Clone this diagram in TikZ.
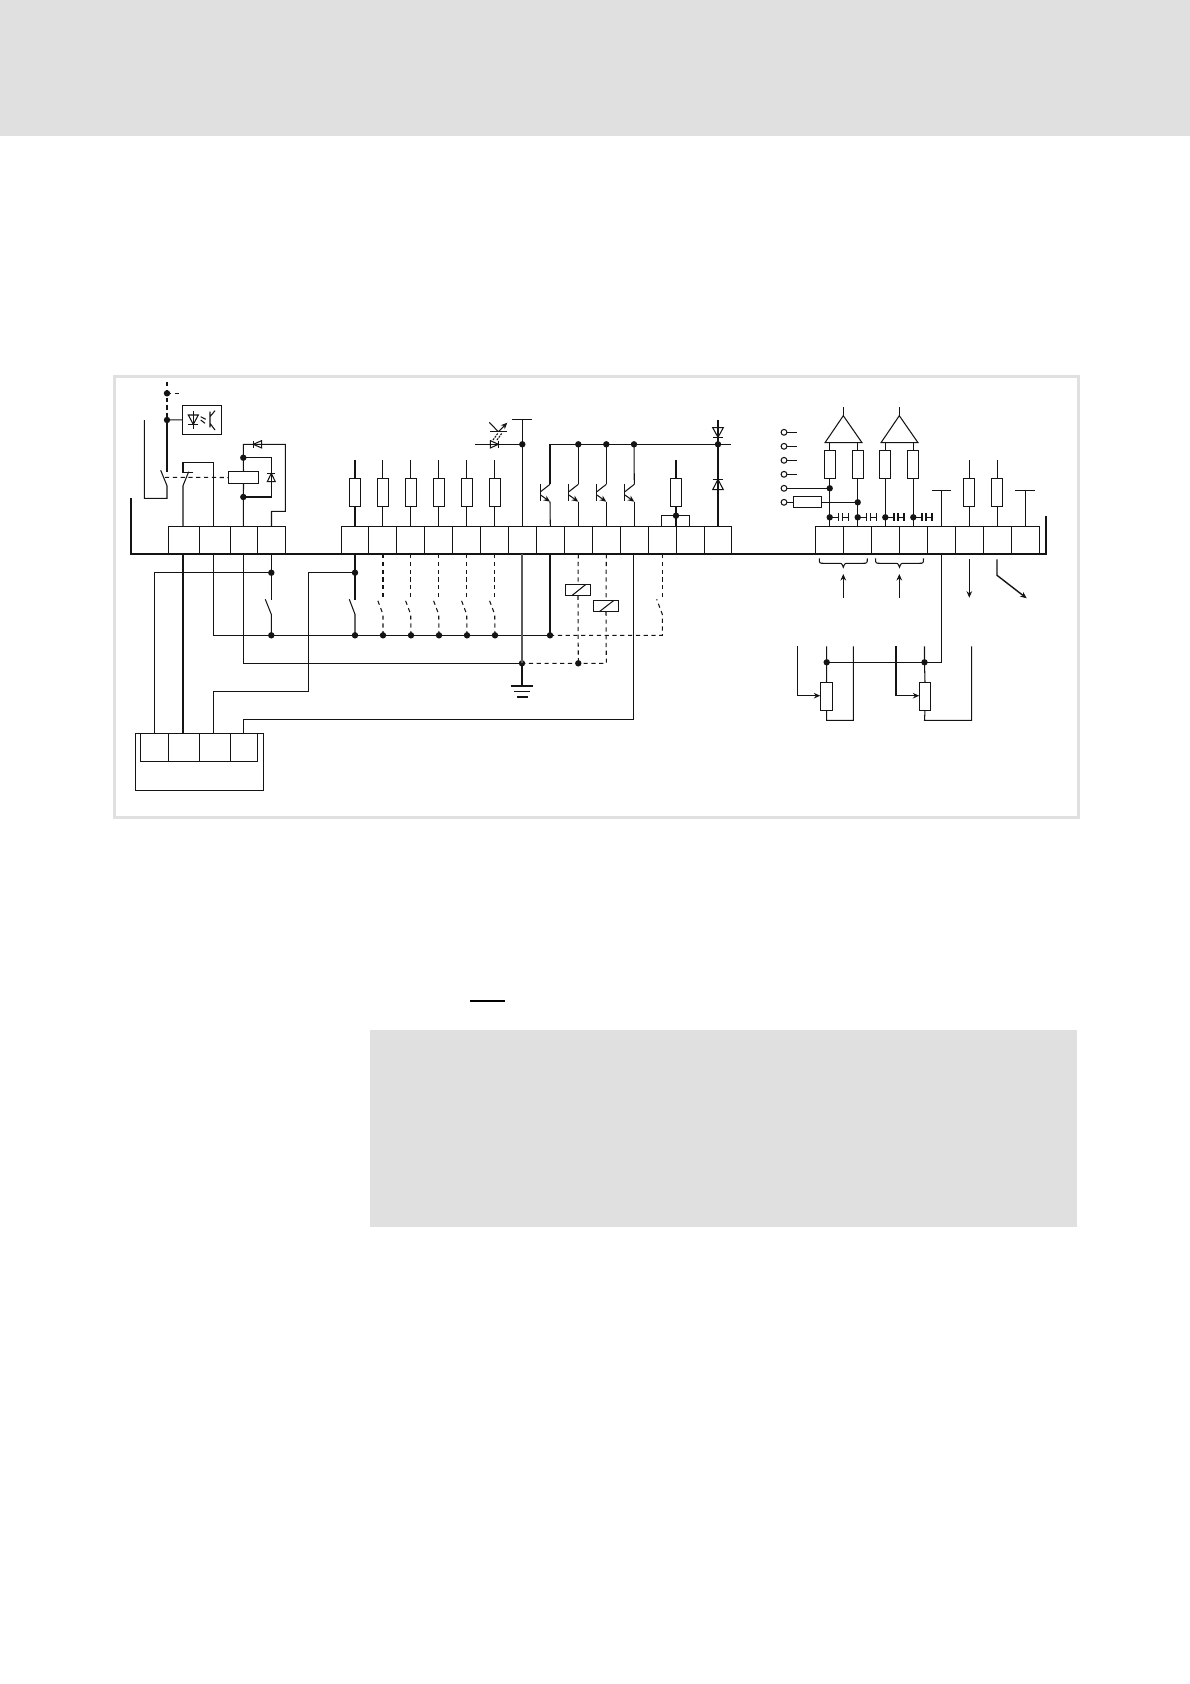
\documentclass[tikz,border=0pt]{standalone}
\usetikzlibrary{arrows.meta}
\definecolor{ink}{HTML}{141414}
\definecolor{panel}{HTML}{E0E0E0}
\tikzset{
  wire/.style={line width=1.05pt,draw=ink,line join=miter},
  thickwire/.style={line width=1.9pt,draw=ink},
  dwire/.style={line width=1.05pt,draw=ink,dash pattern=on 4.2pt off 3.6pt},
  bus/.style={line width=2.3pt,draw=ink},
  termbox/.style={rectangle,draw=ink,line width=1.05pt,inner sep=0pt,outer sep=0pt,minimum height=27.7pt},
  resbox/.style={rectangle,draw=ink,line width=1.05pt,inner sep=0pt,outer sep=0pt,minimum width=11.3pt,minimum height=28.3pt},
  relaybox/.style={rectangle,draw=ink,line width=1.05pt,inner sep=0pt,outer sep=0pt,minimum width=25.4pt,minimum height=11.4pt},
  plainbox/.style={rectangle,draw=ink,line width=1.05pt,inner sep=0pt,outer sep=0pt},
  dot/.style={circle,fill=ink,inner sep=0pt,outer sep=0pt,minimum size=6.4pt},
  ring/.style={circle,draw=ink,line width=1.05pt,fill=white,inner sep=0pt,outer sep=0pt,minimum size=5.8pt},
  tip/.style={-{Stealth[length=6.5pt,width=5.6pt]}}
}
\newcommand{\diodemark}[5]{\begin{scope}[shift={(#1,#2)},rotate=#3]
  \draw[wire] (-#4,-#5) -- (#4,0) -- (-#4,#5) -- cycle;
  \draw[wire] (#4,-#5) -- (#4,#5);
\end{scope}}
\newcommand{\transmark}[1]{\begin{scope}[shift={(#1,0)}]
  \draw[wire] (-9.4,484.3) -- (-9.4,501);
  \draw[wire] (-9.4,491.7) -- (0,484.3);
  \draw[wire,tip] (-9.4,495) -- (0,501.7);
\end{scope}}
\newcommand{\capmark}[1]{\begin{scope}[shift={(#1,517.3)}]
  \draw[wire] (0,0) -- (8.7,0) (8.7,-4) -- (8.7,4) (12.7,-4) -- (12.7,4) (12.7,0) -- (18.7,0) (18.7,-4) -- (18.7,4);
\end{scope}}
\newcommand{\bracemark}[1]{\begin{scope}[shift={(#1,0)}]
  \draw[wire] (-24,558.3) .. controls (-24,563.3) .. (-19,563.3) -- (-5,563.3) .. controls (-1.5,563.3) .. (0,567.3) .. controls (1.5,563.3) .. (5,563.3) -- (19,563.3) .. controls (24,563.3) .. (24,558.3);
\end{scope}}
\begin{document}
\begin{tikzpicture}[x=1pt,y=-1pt]
\path[use as bounding box] (0,0) rectangle (1190,1684);
\fill[panel] (0,0) rectangle (1190,136);
\draw[panel,line width=3pt] (114,376) rectangle (1078,817);
\fill[panel] (369.5,1029.5) rectangle (1077,1227);
\fill[black] (469.5,1000) rectangle (504.5,1002.2);

% terminal strip
\foreach \n/\a/\b in {L1/168.3/199.3,L2/199.3/230.3,L3/230.3/257.7,L4/257.7/285.3,
  M1/341.3/368.3,M2/368.3/396.3,M3/396.3/424.3,M4/424.3/452.3,M5/452.3/480.3,M6/480.3/508.3,M7/508.3/536.3,
  M8/536.3/564.3,M9/564.3/592.3,M10/592.3/620.3,M11/620.3/648.3,M12/648.3/676.3,M13/676.3/704.3,M14/704.3/731.3,
  R1/815.3/843.3,R2/843.3/871.3,R3/871.3/899.3,R4/899.3/927.3,R5/927.3/955.3,R6/955.3/983.3,R7/983.3/1011.3,R8/1011.3/1039.3}{
  \pgfmathsetmacro\w{\b-\a}\pgfmathsetmacro\c{(\a+\b)/2}
  \node[termbox,minimum width=\w pt] (\n) at (\c,540.2) {};
}
\draw[bus] (131,498) -- (131,554) -- (1047,554);
\draw[wire] (1046,516) -- (1046,554);

% connector at the bottom left
\node[plainbox,minimum width=128pt,minimum height=57pt] (X) at (199.3,761.8) {};
\foreach \n/\a/\b in {C1/140.3/168.3,C2/168.3/199.3,C3/199.3/230.3,C4/230.3/257.3}{
  \pgfmathsetmacro\w{\b-\a}\pgfmathsetmacro\c{(\a+\b)/2}
  \node[termbox,minimum width=\w pt,minimum height=28pt] (\n) at (\c,747.3) {};
}

% junctions
\node[dot] (jT1) at (167,393.3) {};
\node[dot] (jT2) at (167,420) {};
\node[dot] (jK1) at (243.3,457.7) {};
\node[dot] (jK2) at (243.3,497) {};
\node[dot] (jA) at (271.3,572.7) {};
\node[dot] (jB) at (355,572.7) {};
\node[dot] (jC) at (271.3,635.3) {};
\node[dot] (jD) at (355,635.3) {};
\foreach \i/\x in {1/383,2/411,3/439,4/467,5/495}{\node[dot] (jE\i) at (\x,635.3) {};}
\node[dot] (jF) at (550,635.3) {};
\node[dot] (jG) at (522,663.3) {};
\node[dot] (jH) at (578.3,663.3) {};
\node[dot] (jP) at (522.3,444.3) {};
\foreach \i/\x in {1/578.3,2/606.3,3/634,4/718}{\node[dot] (jQ\i) at (\x,444.3) {};}
\node[dot] (jS) at (676,515.7) {};

% upper left : contacts and relay
\draw[dwire] (167,382) -- (jT1.center) -- (jT2.center);
\draw[dwire] (jT1.center) -- (181.7,393.3);
\node[plainbox,minimum width=39pt,minimum height=29pt] (opto) at (201.8,419.8) {};
\draw[wire] (jT2.center) -- (opto.west);
\draw[wire] (jT2.center) -- (167,472);
\draw[wire] (144.3,420) -- (144.3,498.3) -- (167,498.3) -- (167,485.7) -- (160.7,470.3);
\draw[wire] ([xshift=-0.8pt]L1.north) -- (183,485.7) -- (188.7,471.7);
\draw[wire] (193.3,472.3) -- (183,472.3) -- (183,462.7) -- (213.7,462.7) -- ([xshift=-1.1pt]L2.north);
\node[plainbox,minimum width=30.4pt,minimum height=12.4pt] (K) at (243.5,477.5) {};
\draw[dwire] (165,477.3) -- (K.west);
\draw[wire] (K.south) -- ([xshift=-0.7pt]L3.north);
\draw[wire] (K.north) -- (jK1.center) -- (243.3,444.3) -- (285.3,444.3) -- (285.3,511.3) -- (271.5,511.3) -- (L4.north);
\draw[wire] (jK1.center) -- (271.3,457.7) -- (271.3,497) -- (jK2.center);
\diodemark{257.5}{444.3}{180}{4.2}{3.7}
\diodemark{271.3}{477.5}{90}{4.2}{4}
% optocoupler
\draw[wire] (193.3,410.7) -- (193.3,429.3);
\diodemark{193.3}{419.7}{-90}{4.7}{5}
\draw[wire] (200.7,416.7) -- (205.7,419.3) (200.7,420) -- (205,423.3);
\draw[wire] (210,411.7) -- (210,427.3) (210,416.7) -- (215,410.7) (210,423.3) -- (215,430);

% resistors above the middle row
\foreach \i/\x in {1/355,2/382.7,3/410.7,4/438.7,5/466.7,6/494.7}{
  \node[resbox] (rm\i) at (\x,492.5) {};
  \draw[wire] (rm\i.north) -- ++(0,-18);
  \draw[wire] (rm\i.south) -- (rm\i.south |- M\i.north);
}
% supply and photo coupler
\draw[wire] (M7.north) -- (522.3,419.7);
\draw[wire] (512.3,419.7) -- (532,419.7);
\draw[wire] (475.3,444.3) -- (jP.center);
\diodemark{494.3}{444.3}{0}{4}{3.7}
\draw[wire] (490,431.7) -- (506.7,431.7);
\draw[wire] (489.3,422.3) -- (498.3,431.7);
\draw[wire,tip] (498.3,431.7) -- (507.3,422.7);
\draw[wire,dash pattern=on 2pt off 1pt] (493,440) -- (498,433) (497,440) -- (502,433);

% transistors
\draw[wire] (550,501.7) -- (M8.north);
\draw[wire] (578.3,501.7) -- (M9.north);
\draw[wire] (606.3,501.7) -- (M10.north);
\draw[wire] (634.3,501.7) -- (M11.north);
\draw[wire] (550,484.3) -- (550,444.3) -- (jQ4.center) -- (731.3,444.3);
\draw[wire] (578.3,484.3) -- (jQ1.center);
\draw[wire] (606.3,484.3) -- (jQ2.center);
\draw[wire] (634.3,484.3) -- (jQ3.center);
\transmark{550}\transmark{578.3}\transmark{606.3}\transmark{634.3}

% resistor with bridge
\node[resbox] (rb) at (676,492.5) {};
\draw[wire] (rb.north) -- ++(0,-18);
\draw[wire] (rb.south) -- (jS.center) -- (676,526.3);
\draw[wire] (661.3,526.3) -- (661.3,515.3) -- (689.3,515.3) -- (689.3,526.3);

% diode column
\draw[wire] (718,420) -- (jQ4.center) -- (718,526.3);
\diodemark{718}{432.5}{-90}{4.8}{5.3}
\diodemark{718}{484.5}{90}{5.2}{5.3}

% wiring below the strip, left part
\draw[wire] ([xshift=-0.8pt]L1.south) -- ([xshift=-0.8pt]C2.north);
\draw[wire] ([xshift=-1.1pt]L2.south) |- (jF.center);
\draw[wire] ([xshift=-0.7pt]L3.south) |- (jG.center);
\draw[wire] (jA.center |- L4.south) -- (271.3,600);
\draw[wire] (jC.center) -- (271.3,614.3) -- (265.3,599.3);
\draw[wire] (C1.north) |- (jA.center);
\draw[thickwire] (jB.center |- M1.south) -- (355,600);
\draw[wire] (jD.center) -- (355,614.3) -- (349.3,599.3);
\draw[wire] (jB.center) -- (308.3,572.7) -- (308.3,691.3) -| ([xshift=-1.1pt]C3.north);
\draw[wire] ([xshift=-0.5pt]C4.north) -- ++(0,-14) -| ([xshift=-1pt]M11.south);

% dashed contacts
\foreach \i/\x in {1/383,2/410.7,3/438.7,4/466.7,5/494.7}{
  \draw[dwire] (\x,554) -- (\x,600);
  \draw[dwire] (jE\i.center) -- (\x,614.3) -- (\x-5.7,599.3);
}
\draw[wire] (jF.center |- M8.south) -- (jF.center);
\draw[dwire] (jF.center) -- (662.3,635.3) -- (662.3,614.3) -- (656.7,599.3);
\draw[dwire] (M12.south) -- (662.3,600);

% relays
\node[relaybox] (rl1) at (578,590) {};
\node[relaybox] (rl2) at (606,606) {};
\draw[wire] ([xshift=-6.3pt]rl1.south) -- ([xshift=8pt]rl1.north);
\draw[wire] ([xshift=-6.7pt]rl2.south) -- ([xshift=8pt]rl2.north);
\draw[dwire] (M9.south) -- (rl1.north);
\draw[dwire] (rl1.south) -- (jH.center);
\draw[dwire] (M10.south) -- (rl2.north);
\draw[dwire] (rl2.south) -- (606.3,663.3) -- (jH.center) -- (jG.center);

% earth
\coordinate (gnd) at (522,686);
\draw[wire,draw=ink!70,line width=1.7pt] (jG.center |- M7.south) -- (jG.center);
\draw[thickwire] (jG.center) -- (gnd);
\draw[wire] ([xshift=-11pt]gnd) -- ([xshift=11pt]gnd);
\draw[wire] ([xshift=-8pt,yshift=-5.7pt]gnd) -- ([xshift=8pt,yshift=-5.7pt]gnd);
\draw[wire] ([xshift=-5pt,yshift=-11pt]gnd) -- ([xshift=5.5pt,yshift=-11pt]gnd);

% right part above the strip
\foreach \i/\y in {1/432.3,2/446.3,3/460.3,4/474.3}{
  \node[ring] (o\i) at (784,\y) {};
  \draw[wire] (o\i) -- (796.7,\y);
}
\node[ring] (o5) at (784,488.3) {};
\node[ring] (o6) at (784,502.3) {};
\node[dot] (j5) at (829.7,488.3) {};
\node[dot] (j6) at (857.7,502.3) {};
\draw[wire] (o5) -- (j5.center);
\node[plainbox,minimum width=28.4pt,minimum height=11pt] (r6) at (807.5,501.8) {};
\draw[wire] (o6) -- (r6.west |- o6);
\draw[wire] (r6.east |- j6) -- (j6.center);
\foreach \i/\x/\t in {1/829.7/R1,2/857.7/R2,3/885.3/R3,4/913.3/R4}{
  \node[resbox] (ra\i) at (\x,464.3) {};
  \node[dot] (jc\i) at (\x,517.3) {};
  \draw[wire] (ra\i.south) -- (ra\i.south |- \t.north);
  \capmark{\x}
}
\draw[wire] (825,442.7) -- (843.3,415.7) -- (862,442.7) -- cycle;
\draw[wire] (881,442.7) -- (899.3,415.7) -- (918,442.7) -- cycle;
\draw[wire] (843.3,415.7) -- (843.3,407.3);
\draw[wire] (899.3,415.7) -- (899.3,407.3);
\draw[wire] (ra1.north) -- (829.7,442.7);
\draw[wire] (ra2.north) -- (857.7,442.7);
\draw[wire] (ra3.north) -- (885.3,442.7);
\draw[wire] (ra4.north) -- (913.3,442.7);
\draw[wire] (R5.north) -- (941.3,490.3);
\draw[wire] (931.7,490.3) -- (951.3,490.3);
\foreach \i/\x/\t in {7/969.3/R6,8/997.3/R7}{
  \node[resbox] (ra\i) at (\x,492.5) {};
  \draw[wire] (ra\i.north) -- ++(0,-18);
  \draw[wire] (ra\i.south) -- (ra\i.south |- \t.north);
}
\draw[wire] (R8.north) -- (1025.3,490.3);
\draw[wire] (1015.3,490.3) -- (1035,490.3);

% braces and arrows
\bracemark{843.3}\bracemark{899.5}
\draw[wire,tip] (843.3,597.7) -- (843.3,574);
\draw[wire,tip] (899.3,597.7) -- (899.3,574);
\draw[wire,tip] (969.3,559.3) -- (969.3,597.7);
\draw[wire,line width=1.4pt,tip] (997,559.3) -- (997,575.3) -- (1026.7,598.3);

% potentiometers
\node[dot] (jp1) at (826.7,662.3) {};
\node[dot] (jp2) at (924.5,662.3) {};
\draw[wire] (R5.south) |- (jp1.center);
\node[resbox,minimum width=12.4pt] (p1) at (826.5,696.3) {};
\node[resbox,minimum width=11.4pt] (p2) at (925,696.3) {};
\draw[wire] (826.7,646.3) -- (jp1.center) -- (p1.north);
\draw[wire] (924.5,646.3) -- (jp2.center) -- (p2.north);
\draw[wire] (p1.south) -- (826.7,720.3) -- (853.3,720.3) -- (853.3,646.3);
\draw[wire] (p2.south) -- (924.5,720.3) -- (971.7,720.3) -- (971.7,646.3);
\draw[wire,tip] (797.7,646.3) -- (797.7,695.7) -- (p1.west |- 0,695.7);
\draw[wire,tip] (896,646.3) -- (896,695.7) -- (p2.west |- 0,695.7);
\end{tikzpicture}
\end{document}
